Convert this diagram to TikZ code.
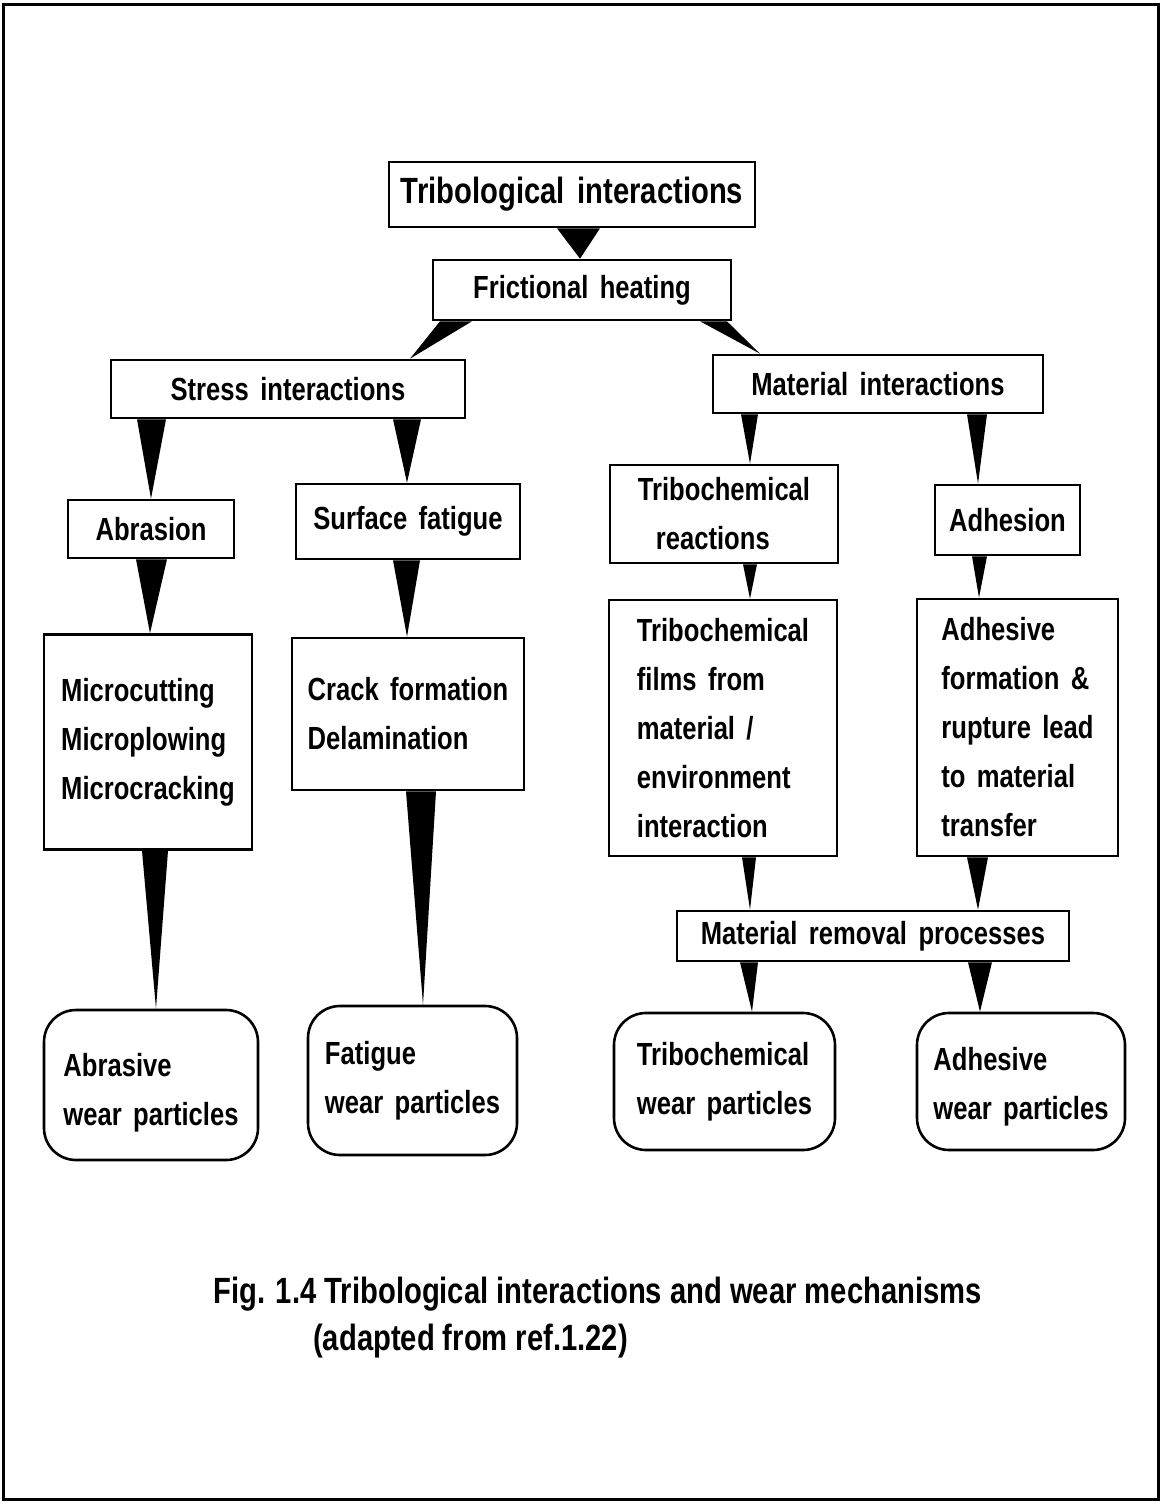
\documentclass[tikz,border=0pt]{standalone}
\usepackage{fontspec}
\setmainfont{Liberation Sans}[FakeStretch=0.8]
\newfontfamily\bodyfam{Liberation Sans}[FakeStretch=0.8,WordSpace=1.6]
\newcommand\bodyfont{\bodyfam\fontsize{32}{49}\selectfont\bfseries}
\newcommand\bigfont{\bodyfam\fontsize{36.5}{49}\selectfont\bfseries}
\newcommand\capfont{\fontsize{36.5}{47}\selectfont\bfseries}
\newcommand\wedgeconn[5]{\fill (#2,0 |- #1.south) -- (#3,0 |- #1.south) -- (#5,0 |- #4.north) -- cycle;}
\begin{document}
\begin{tikzpicture}[x=1pt,y=-1pt,
  box/.style={draw, line width=2.6pt, inner sep=0pt, align=left, font=\bodyfont},
  rbox/.style={box, rounded corners=32pt},
  btext/.style={inner sep=0pt, align=left, font=\bodyfont}]
\useasboundingbox (0,0) rectangle (1165,1504);
\draw[line width=3pt] (3,5) rectangle (1158,1499);

\node[box, font=\bigfont, minimum width=366pt, minimum height=65pt] (tri) at (572,194.5) {Tribological interactions};
\node[box, minimum width=298pt, minimum height=60pt] (fric) at (582,290) {Frictional heating};
\node[box, minimum width=354pt, minimum height=58pt] (stress) at (288,389) {Stress interactions};
\node[box, minimum width=330pt, minimum height=58pt] (mat) at (878,384) {Material interactions};
\node[box, minimum width=166pt, minimum height=58pt] (abr) at (151,529) {Abrasion};
\node[box, minimum width=224pt, minimum height=75pt] (sfat) at (408,521.5) {Surface fatigue};
\node[box, minimum width=228pt, minimum height=98pt] (trire) at (724,514) {Tribochemical\\\hspace*{18pt}reactions};
\node[box, minimum width=145pt, minimum height=70pt] (adh) at (1007.5,520) {Adhesion};
\node[box, minimum width=208pt, minimum height=215pt] (micro) at (148,742) {Microcutting\\Microplowing\\Microcracking};
\node[box, minimum width=232pt, minimum height=152pt] (crack) at (408,714) {Crack formation\\Delamination};
\node[box, minimum width=228pt, minimum height=256pt] (films) at (723,728) {Tribochemical\\films from\\material /\\environment\\interaction};
\node[box, minimum width=201pt, minimum height=257pt] (adf) at (1017.5,727.5) {Adhesive\\formation \&\\rupture lead\\to material\\transfer};
\node[box, minimum width=392pt, minimum height=50pt] (mrp) at (873,936) {Material removal processes};
\node[rbox, minimum width=214pt, minimum height=150pt] (abw) at (151,1085) {};
\node[btext, yshift=-8pt] (abwt) at (abw.center) {Abrasive\\wear particles};
\node[rbox, minimum width=209pt, minimum height=149pt] (faw) at (412.5,1080.5) {Fatigue\\wear particles};
\node[rbox, minimum width=221pt, minimum height=137pt] (trw) at (724.5,1081.5) {Tribochemical\\wear particles};
\node[rbox, minimum width=208pt, minimum height=137pt] (adw) at (1021,1081.5) {};
\node[btext, yshift=-5pt] (adwt) at (adw.center) {Adhesive\\wear particles};

\wedgeconn{tri}{557}{600}{fric}{580}
\wedgeconn{fric}{440}{472}{stress}{410}
\wedgeconn{fric}{700}{727}{mat}{760}
\wedgeconn{stress}{137}{166}{abr}{151}
\wedgeconn{stress}{393}{421}{sfat}{407}
\wedgeconn{mat}{741}{758}{trire}{750}
\wedgeconn{mat}{967}{987}{adh}{978}
\wedgeconn{abr}{136}{167}{micro}{150}
\wedgeconn{sfat}{393}{420}{crack}{407}
\wedgeconn{trire}{743}{757}{films}{750}
\wedgeconn{adh}{972}{987}{adf}{979}
\wedgeconn{micro}{142}{168}{abw}{156}
\wedgeconn{crack}{406}{436}{faw}{423}
\wedgeconn{films}{742}{756}{mrp}{750}
\wedgeconn{adf}{967}{988}{mrp}{978}
\wedgeconn{mrp}{740}{758}{trw}{752}
\wedgeconn{mrp}{968}{992}{adw}{980}

\node[anchor=base west, font=\capfont, inner sep=0pt] (cap1) at (213,1303) {Fig. 1.4 Tribological interactions and wear mechanisms};
\node[anchor=base west, font=\capfont, inner sep=0pt] (cap2) at (313,1350) {(adapted from ref.1.22)};
\end{tikzpicture}
\end{document}
